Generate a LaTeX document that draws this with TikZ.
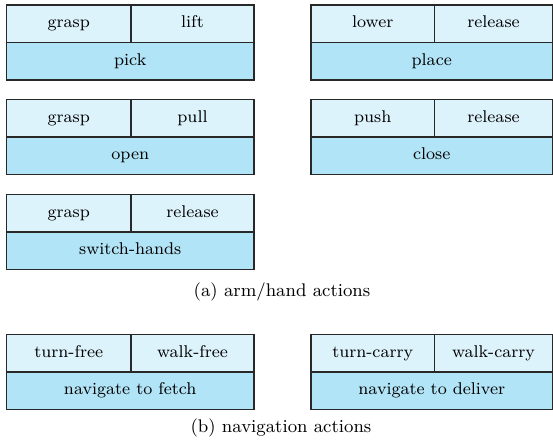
\documentclass[tikz,border=0pt]{standalone}
\usepackage{xcolor}
\definecolor{subcolor}{RGB}{221, 243, 252}
\definecolor{actcolor}{RGB}{178, 228, 247}
\definecolor{edgecolor}{RGB}{40, 40, 40}
\usepackage{tikz}
\usetikzlibrary{positioning}

\newcommand{\px}{0.476pt}

\tikzset{
  cell/.style={draw=edgecolor, line width=0.5pt, minimum height=37.5*\px,
    inner sep=0pt, outer sep=0pt, text height=5.8pt, text depth=2pt,
    font=\fontsize{8.1}{10}\selectfont},
  subcell/.style={cell, fill=subcolor},
  actcell/.style={cell, fill=actcolor},
  caption/.style={font=\fontsize{8.7}{11}\selectfont}
}

\begin{document}
\begin{tikzpicture}[x=0.476pt, y=-0.476pt]
  \useasboundingbox (0,0) rectangle (553,445);
  % one block: two sub-actions on top, the action below
  \foreach \name/\x/\y/\wl/\wr/\la/\lb/\act in {
      pick/6.5/5/124.5/123/grasp/lift/pick,
      place/311/5/123.5/118/lower/release/place,
      open/6.5/99.5/124.5/123/grasp/pull/open,
      close/311/99.5/123.5/118/push/release/close,
      switch/6.5/194.5/124.5/123/grasp/release/switch-hands,
      fetch/6.5/334.5/124.5/123/turn-free/walk-free/navigate to fetch,
      deliver/311/334.5/123.5/118/turn-carry/walk-carry/navigate to deliver}
  {
    \node[subcell, minimum width=\wl*\px, anchor=north west] (\name-a) at (\x,\y) {\la};
    \node[subcell, minimum width=\wr*\px, right=0pt of \name-a] (\name-b) {\lb};
    \node[actcell, minimum width=(\wl+\wr)*\px, anchor=north west] (\name) at (\name-a.south west) {\act};
  }
  \node[caption] (capA) at (282,292) {(a) arm/hand actions};
  \node[caption] (capB) at (281,428) {(b) navigation actions};
\end{tikzpicture}
\end{document}
